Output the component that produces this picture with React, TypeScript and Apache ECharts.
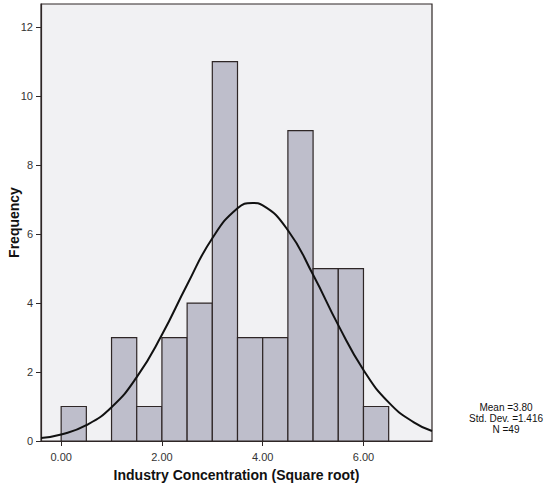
import React, { useEffect, useRef } from "react";
import * as echarts from "echarts";

// Histogram bins (lower edges), bin width and counts
const binStarts = [0, 0.5, 1, 1.5, 2, 2.5, 3, 3.5, 4, 4.5, 5, 5.5, 6];
const binWidth = 0.5;
const frequencies = [1, 0, 3, 1, 3, 4, 11, 3, 3, 9, 5, 5, 1];

// Normal curve
const curveX = [-0.4, 0, 0.5, 1, 1.5, 2, 2.5, 3, 3.5, 3.8, 4, 4.5, 5, 5.5, 6, 6.5, 7, 7.36];
const curveY = [0.09, 0.19, 0.46, 0.98, 1.85, 3.08, 4.53, 5.88, 6.75, 6.9, 6.83, 6.11, 4.82, 3.36, 2.06, 1.12, 0.54, 0.29];

const xTickValues = [0, 2, 4, 6];
const yTickValues = [0, 2, 4, 6, 8, 10, 12];
const statsLines = ["Mean =3.80", "Std. Dev. =1.416", "N =49"];

const FONT = "'Liberation Sans', Arial, sans-serif";
const DARK = "#2e2626";

export default function App() {
  const ref = useRef<HTMLDivElement>(null);
  useEffect(() => {
    if (!ref.current) return;
    const chart = echarts.init(ref.current, undefined, { renderer: "svg" });
    const barData = binStarts.map((s, i) => [s, s + binWidth, frequencies[i]]);
    const curveData = curveX.map((x, i) => [x, curveY[i]]);
    chart.setOption({
      animation: false,
      backgroundColor: "#ffffff",
      grid: {
        left: 41,
        top: 4,
        right: 116,
        bottom: 43,
        outerBoundsMode: "none",
        containLabel: false,
        show: true,
        backgroundColor: "#f1f1f3",
        borderColor: DARK,
        borderWidth: 1.2,
      },
      xAxis: {
        type: "value",
        min: -0.4,
        max: 7.36,
        splitLine: { show: false },
        axisLine: { show: true, onZero: false, lineStyle: { color: DARK, width: 1.2 } },
        axisTick: { show: true, length: 5, customValues: xTickValues, lineStyle: { color: DARK } },
        axisLabel: {
          customValues: xTickValues,
          formatter: (v: number) => v.toFixed(2),
          color: "#333",
          fontFamily: FONT,
          fontSize: 11,
          margin: 10,
        },
        name: "Industry Concentration (Square root)",
        nameLocation: "middle",
        nameGap: 27,
        nameMoveOverlap: false,
        nameTextStyle: { fontFamily: FONT, fontSize: 14, fontWeight: "bold", color: "#111" },
      },
      yAxis: {
        type: "value",
        min: 0,
        max: 12.67,
        splitLine: { show: false },
        axisLine: { show: true, onZero: false, lineStyle: { color: DARK, width: 1.2 } },
        axisTick: { show: true, length: 5, customValues: yTickValues, lineStyle: { color: DARK } },
        axisLabel: {
          customValues: yTickValues,
          color: "#333",
          fontFamily: FONT,
          fontSize: 11,
          margin: 8,
        },
        name: "Frequency",
        nameLocation: "middle",
        nameGap: 20,
        nameMoveOverlap: false,
        nameTextStyle: { fontFamily: FONT, fontSize: 14, fontWeight: "bold", color: "#111" },
      },
      series: [
        {
          type: "custom",
          data: barData,
          renderItem: (params: any, api: any) => {
            const x0 = api.value(0);
            const x1 = api.value(1);
            const h = api.value(2);
            if (!h) return null;
            const p0 = api.coord([x0, h]);
            const p1 = api.coord([x1, 0]);
            return {
              type: "rect",
              shape: { x: p0[0], y: p0[1], width: p1[0] - p0[0], height: p1[1] - p0[1] },
              style: { fill: "#bebecb", stroke: DARK, lineWidth: 1.2 },
            };
          },
          encode: { x: [0, 1], y: 2 },
          z: 2,
        },
        {
          type: "line",
          data: curveData,
          smooth: true,
          symbol: "none",
          lineStyle: { color: "#111", width: 2 },
          z: 3,
        },
      ],
      graphic: [
        {
          type: "text",
          x: 506,
          y: 402,
          style: {
            text: statsLines.join("\n"),
            align: "center",
            verticalAlign: "top",
            fontFamily: FONT,
            fontSize: 10,
            lineHeight: 11,
            fill: "#111",
          },
        },
      ],
    });
    return () => chart.dispose();
  }, []);
  return (
    <div
      ref={ref}
      style={{ position: "absolute", left: 0, top: 0, width: 548, height: 484 }}
    />
  );
}
